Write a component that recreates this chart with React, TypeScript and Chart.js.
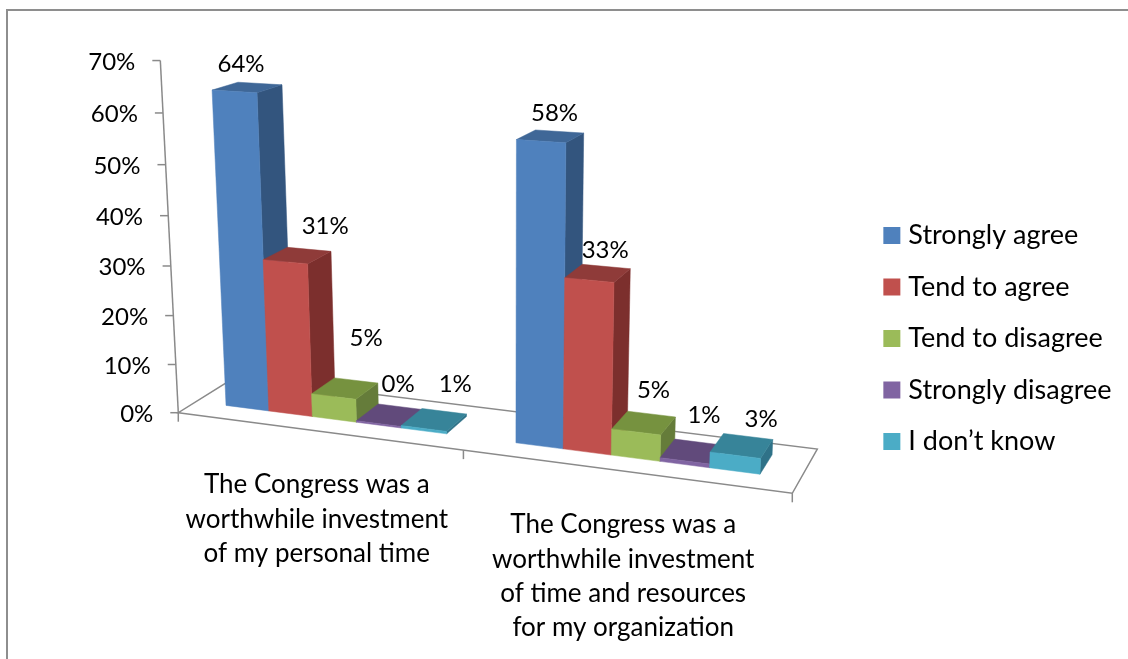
import React, { useEffect, useRef } from "react";
import { Chart, registerables } from "chart.js";

Chart.register(...registerables);

const categories = [
  ["The Congress was a", "worthwhile investment", "of my personal time"],
  ["The Congress was a", "worthwhile investment", "of time and resources", "for my organization"],
];
const stronglyAgree = [63.7, 58];
const tendToAgree = [31, 33];
const tendToDisagree = [4.7, 5.1];
const stronglyDisagree = [0.3, 0.7];
const dontKnow = [0.5, 3];
const seriesNames = ["Strongly agree", "Tend to agree", "Tend to disagree", "Strongly disagree", "I don\u2019t know"];
const seriesValues = [stronglyAgree, tendToAgree, tendToDisagree, stronglyDisagree, dontKnow];

const frontColors = ["#4F81BD", "#C0504D", "#9BBB59", "#8064A2", "#4BACC6"];
const sideColors = ["#33557E", "#7C2F2D", "#657C3A", "#54426C", "#2F7288"];
const topColors = ["#3F6797", "#8F3B39", "#76923F", "#614A7B", "#378499"];
const axisColor = "#8A8A8A";
const FONT = "Lato, Carlito, sans-serif";
const VALUE_FONT = 24;
const CATEGORY_FONT = 26;
const LEGEND_FONT = 27;

// Label nudges relative to the back-top centre of each bar [dataset][category]
const labelNudge = [
  [[-19, -19], [-5, -18]],
  [[16, -23], [-1, -16]],
  [[10, -42], [2, -24]],
  [[-2, -22], [5, -27]],
  [[11, -27], [13, -17]],
];

// Perspective camera constants (floor quad homography)
const FL = [178.3, 412.7], FR = [792.3, 493.3], BR = [817.3, 449], BL = [235.4, 377];
const DEPTH_FRONT = 0.3, DEPTH_BACK = 0.745;
const BAR_SHIFT = -0.003;

const dx1 = FR[0] - BR[0], dx2 = BL[0] - BR[0], sx = FL[0] - FR[0] + BR[0] - BL[0];
const dy1 = FR[1] - BR[1], dy2 = BL[1] - BR[1], sy = FL[1] - FR[1] + BR[1] - BL[1];
const den0 = dx1 * dy2 - dx2 * dy1;
const hg = (sx * dy2 - dx2 * sy) / den0;
const hh = (dx1 * sy - sx * dy1) / den0;
const ha = FR[0] - FL[0] + hg * FR[0], hb = BL[0] - FL[0] + hh * BL[0];
const hd = FR[1] - FL[1] + hg * FR[1], he = BL[1] - FL[1] + hh * BL[1];

function floorPoint(u: number, d: number) {
  const w = hg * u + hh * d + 1;
  return [(ha * u + hb * d + FL[0]) / w, (hd * u + he * d + FL[1]) / w];
}
function project(u: number, d: number, v: number) {
  const [px, py] = floorPoint(u, d);
  const s = 1 + 0.0016 * (py - 412);
  const up = s * (4.78 * v + 0.0035 * v * v);
  const lean = 1 + 0.000786 * v;
  return [505 + (px - 505) * lean, py - up];
}

function poly(ctx: CanvasRenderingContext2D, pts: number[][], color: string) {
  ctx.beginPath();
  pts.forEach((p, i) => (i ? ctx.lineTo(p[0], p[1]) : ctx.moveTo(p[0], p[1])));
  ctx.closePath();
  ctx.fillStyle = color;
  ctx.strokeStyle = color;
  ctx.lineWidth = 0.5;
  ctx.fill();
  ctx.stroke();
}
function line(ctx: CanvasRenderingContext2D, a: number[], b: number[]) {
  ctx.beginPath();
  ctx.moveTo(a[0], a[1]);
  ctx.lineTo(b[0], b[1]);
  ctx.stroke();
}

const perspectivePlugin = {
  id: "perspective",
  beforeDatasetDraw() {
    return false;
  },
  afterDraw(chart: any) {
    // legend swatches sit closer to their text than the default legend gap
    const ctx: CanvasRenderingContext2D = chart.ctx;
    const lg = chart.legend;
    lg.legendItems.forEach((_item: any, i: number) => {
      const box = lg.legendHitBoxes[i];
      ctx.fillStyle = frontColors[i];
      ctx.fillRect(box.left + LEGEND_FONT / 2 - 8, box.top + (box.height - 17) / 2, 17, 17);
    });
  },
  beforeDatasetsDraw(chart: any) {
    const ctx: CanvasRenderingContext2D = chart.ctx;
    const xs = chart.scales.x, ys = chart.scales.y;
    const toU = (px: number) => (px - xs.left) / (xs.right - xs.left);

    ctx.save();
    // frame of the picture
    ctx.fillStyle = "#8E8E8E";
    ctx.fillRect(6, 9, chart.width - 6, 2);
    ctx.fillRect(6, 9, 2, chart.height - 9);

    // floor
    ctx.strokeStyle = axisColor;
    ctx.lineWidth = 1.5;
    const c0 = project(0, 0, 0), c1 = project(1, 0, 0), c2 = project(1, 1, 0), c3 = project(0, 1, 0);
    ctx.beginPath();
    ctx.moveTo(c0[0], c0[1]);
    ctx.lineTo(c1[0], c1[1]);
    ctx.lineTo(c2[0], c2[1]);
    ctx.lineTo(c3[0], c3[1]);
    ctx.closePath();
    ctx.stroke();

    // category tick marks
    [0, 0.49, 1].forEach((u) => {
      const p = project(u, 0, 0);
      line(ctx, p, [p[0], p[1] + 9]);
    });

    // value axis
    const top = ys.max;
    line(ctx, project(0, 0, 0), project(0, 0, top));
    ctx.textAlign = "right";
    ctx.textBaseline = "middle";
    ctx.font = `${VALUE_FONT}px ${FONT}`;
    ys.ticks.forEach((t: any) => {
      const p = project(0, 0, t.value);
      ctx.strokeStyle = axisColor;
      line(ctx, p, [p[0] - 8, p[1]]);
      ctx.fillStyle = "#000";
      ctx.fillText(`${t.value}%`, p[0] - 25, p[1] + 1.5);
    });

    // bars, left to right
    const nCat = chart.data.labels.length;
    const nSer = chart.data.datasets.length;
    const tops: number[][][] = [];
    for (let c = 0; c < nCat; c++) {
      for (let s = 0; s < nSer; s++) {
        const el = chart.getDatasetMeta(s).data[c];
        const u0 = toU(el.x - el.width / 2) + BAR_SHIFT, u1 = toU(el.x + el.width / 2) + BAR_SHIFT;
        const v = ys.getValueForPixel(el.y);
        const fbl = project(u0, DEPTH_FRONT, 0), fbr = project(u1, DEPTH_FRONT, 0);
        const ftl = project(u0, DEPTH_FRONT, v), ftr = project(u1, DEPTH_FRONT, v);
        const btl = project(u0, DEPTH_BACK, v), btr = project(u1, DEPTH_BACK, v);
        const bbr = project(u1, DEPTH_BACK, 0);
        poly(ctx, [fbr, bbr, btr, ftr], sideColors[s]);
        poly(ctx, [ftl, ftr, btr, btl], topColors[s]);
        poly(ctx, [fbl, fbr, ftr, ftl], frontColors[s]);
        (tops[s] = tops[s] || [])[c] = [(btl[0] + btr[0]) / 2, (btl[1] + btr[1]) / 2];
      }
    }

    // value labels
    ctx.fillStyle = "#000";
    ctx.textAlign = "center";
    ctx.textBaseline = "middle";
    ctx.font = `${VALUE_FONT}px ${FONT}`;
    for (let c = 0; c < nCat; c++) {
      for (let s = 0; s < nSer; s++) {
        const val = chart.data.datasets[s].data[c] as number;
        const n = labelNudge[s][c];
        ctx.fillText(`${Math.round(val)}%`, tops[s][c][0] + n[0], tops[s][c][1] + n[1]);
      }
    }

    // category labels
    ctx.font = `${CATEGORY_FONT}px ${FONT}`;
    const labels = chart.data.labels as string[][];
    labels.forEach((lines, i) => {
      const p = project(toU(xs.getPixelForValue(i)), 0, 0);
      lines.forEach((ln, k) => ctx.fillText(ln, p[0] - 3.5, p[1] + 53.5 + k * 34.3));
    });
    ctx.restore();
  },
};

export default function App() {
  const ref = useRef<HTMLCanvasElement>(null);
  useEffect(() => {
    const chart = new Chart(ref.current as HTMLCanvasElement, {
      type: "bar",
      data: {
        labels: categories as any,
        datasets: seriesNames.map((name, i) => ({
          label: name,
          data: seriesValues[i],
          backgroundColor: frontColors[i],
          borderWidth: 0,
          categoryPercentage: 0.77,
          barPercentage: 1,
        })),
      },
      options: {
        responsive: false,
        animation: false,
        layout: { padding: { top: 18, right: 6.5, left: 10 } },
        plugins: {
          tooltip: { enabled: false },
          legend: {
            position: "right",
            labels: {
              boxWidth: 17,
              boxHeight: 17,
              padding: 24.5,
              color: "#000",
              font: { family: FONT, size: LEGEND_FONT },
              generateLabels: (chart: any) =>
                chart.data.datasets.map((d: any, i: number) => ({
                  text: d.label,
                  fillStyle: "rgba(0,0,0,0)",
                  strokeStyle: "rgba(0,0,0,0)",
                  lineWidth: 0,
                  fontColor: "#000",
                  datasetIndex: i,
                })),
            },
          },
        },
        scales: {
          x: { display: false },
          y: { display: false, min: 0, max: 70, ticks: { stepSize: 10 } },
        },
      },
      plugins: [perspectivePlugin],
    } as any);
    return () => chart.destroy();
  }, []);
  return (
    <div style={{ position: "absolute", left: 0, top: 0, width: 1128, height: 659, background: "#fff" }}>
      <canvas ref={ref} width={1128} height={659} style={{ display: "block" }} />
    </div>
  );
}
